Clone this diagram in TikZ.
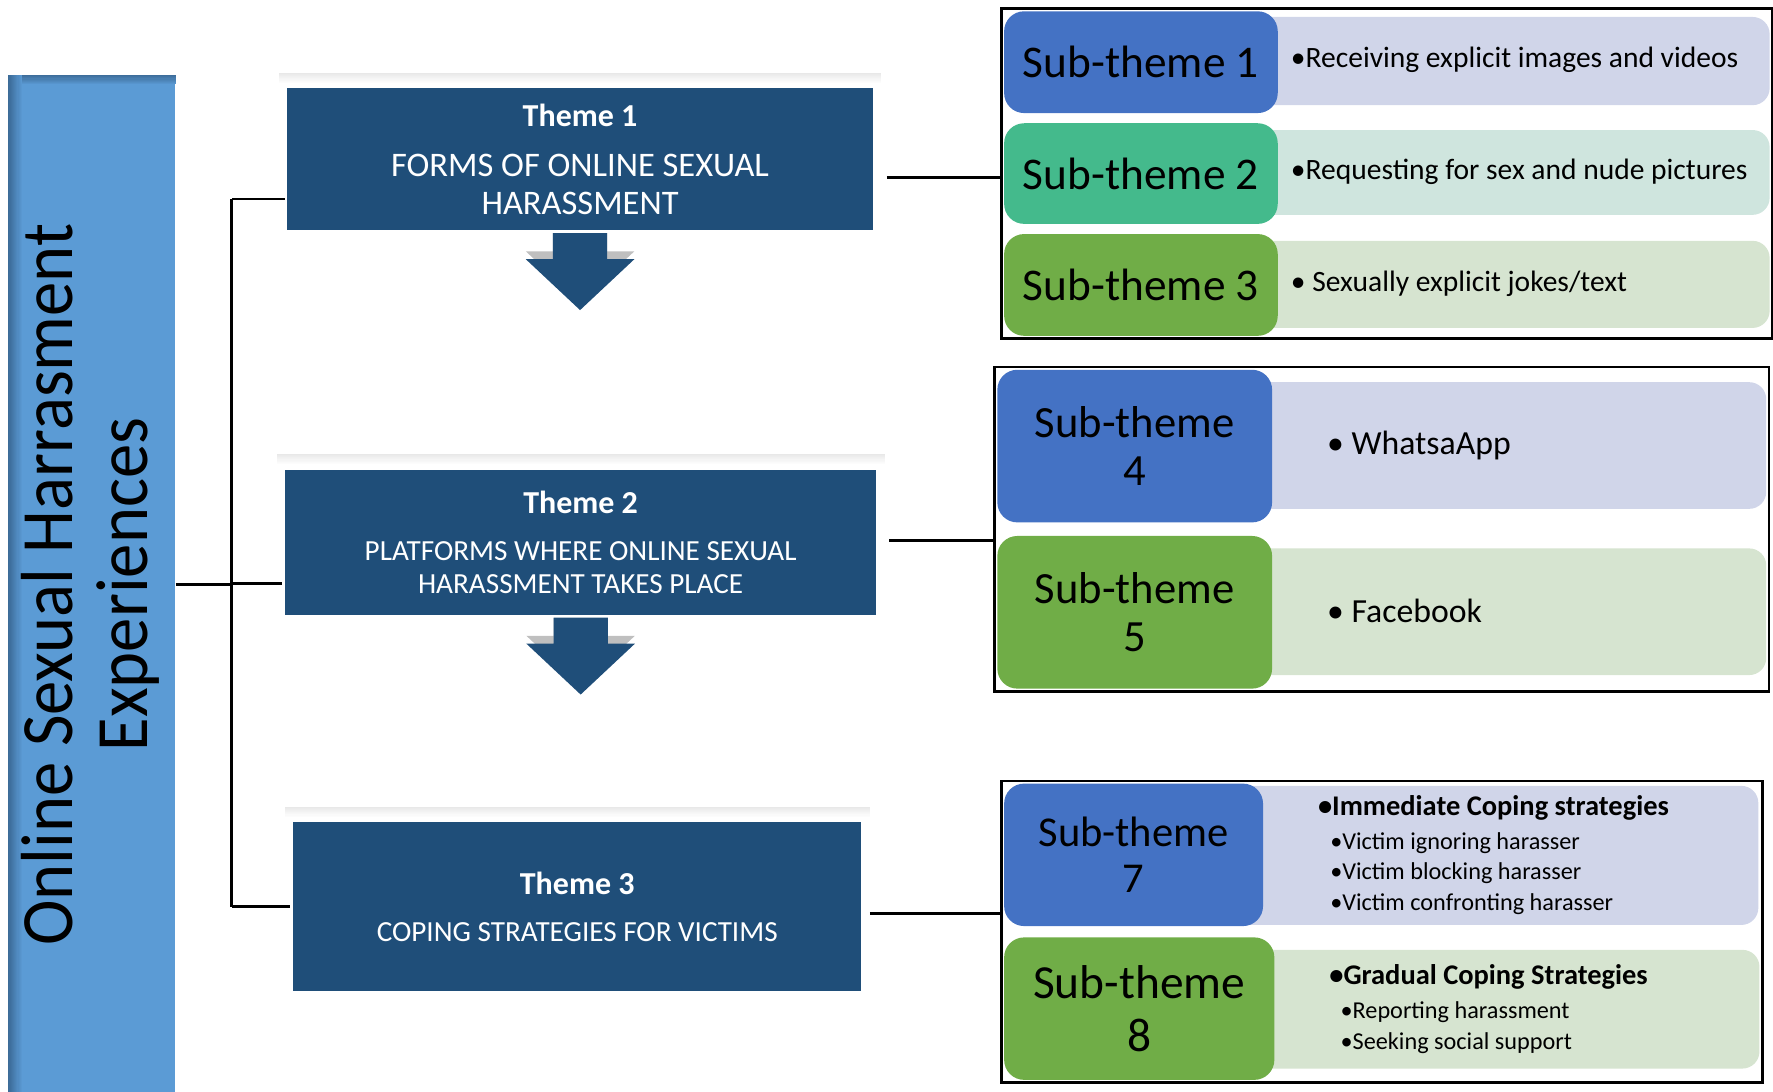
\documentclass[tikz,border=0pt]{standalone}
\usepackage{fontspec}
\setmainfont{Carlito}
\usetikzlibrary{calc,fit,backgrounds}

\definecolor{themeblue}{HTML}{1F4E79}
\definecolor{barblue}{HTML}{5B9BD5}
\definecolor{bardark}{HTML}{3A6894}
\definecolor{stblue}{HTML}{4472C4}
\definecolor{stteal}{HTML}{44BA8C}
\definecolor{stgreen}{HTML}{70AD47}
\definecolor{lavender}{HTML}{D0D5E9}
\definecolor{mint}{HTML}{CFE5DE}
\definecolor{palegreen}{HTML}{D6E4D0}
\newcommand{\dpx}{0.011307cm}

\begin{document}
\begin{tikzpicture}[x=\dpx,y=-\dpx,
  theme/.style={rectangle, fill=themeblue, draw=white, line width=0.8pt, text=white, align=center, inner sep=0pt},
  subbox/.style={rectangle, rounded corners=0.2cm, inner sep=0pt, align=center},
  itembox/.style={rectangle, rounded corners=0.17cm, inner sep=0pt},
  item/.style={anchor=west, align=left, inner sep=0pt},
  grpframe/.style={draw, line width=0.7pt, inner sep=0.6pt},
  conn/.style={line width=0.8pt}]
\useasboundingbox (0,0) rectangle (1568,965);

% left bar
\draw (81.5,518.5) node[fill=barblue, minimum width=147*\dpx, minimum height=903*\dpx, inner sep=0pt] (bar) {};
\foreach \k [evaluate=\k as \pct using 90-\k*11] in {0,...,7}
  \fill[bardark!\pct!barblue] ($(bar.north west)+(0,\k)$) rectangle ($(bar.north east)+(0,\k+1)$);
\foreach \k [evaluate=\k as \pct using 95-\k*8] in {0,...,11}
  \fill[bardark!\pct!barblue] ($(bar.north west)+(\k,0)$) rectangle ($(bar.south west)+(\k+1,0)$);
\draw (80,517) node[rotate=90, xscale=0.93, align=center, font=\fontsize{21}{21.2}\selectfont] (lbl) {Online Sexual Harrasment\\Experiences};

% themes
\draw (513,141) node[theme, minimum width=520*\dpx, minimum height=128*\dpx, font=\fontsize{9.8}{10.6}\selectfont] (t1) {{\bfseries\fontsize{9.1}{11}\selectfont Theme 1}\\[3.6pt]FORMS OF ONLINE SEXUAL\\HARASSMENT};
\draw (513.5,479.5) node[theme, minimum width=525*\dpx, minimum height=131*\dpx, font=\fontsize{8.3}{9.3}\selectfont] (t2) {{\bfseries\fontsize{9.1}{11}\selectfont Theme 2}\\[4.2pt]PLATFORMS WHERE ONLINE SEXUAL\\HARASSMENT TAKES PLACE};
\draw (510.5,802) node[theme, minimum width=505*\dpx, minimum height=152*\dpx, font=\fontsize{8.3}{9.3}\selectfont] (t3) {{\bfseries\fontsize{9.1}{11}\selectfont Theme 3}\\[4.2pt]COPING STRATEGIES FOR VICTIMS};

\begin{pgfonlayer}{background}
\foreach \t in {t1,t2,t3}
  \foreach \k [evaluate=\k as \pct using 58-\k*5.5] in {0,...,9}
    \fill[black!\pct] ($(\t.north west)+(-5,-\k-2.5)$) rectangle ($(\t.north east)+(5,-\k-1.5)$);
\foreach \t in {t1,t2}
  \fill[black!25, shift={(\t.south)}] (-24,-7) -- (-24,16) -- (-48,16) -- (0,61) -- (48,16) -- (24,16) -- (24,-7) -- cycle;
\end{pgfonlayer}
\foreach \t in {t1,t2}
  \fill[themeblue, shift={(\t.south)}] (-24,0) -- (-24,23) -- (-48,23) -- (0,68) -- (48,23) -- (24,23) -- (24,0) -- cycle;

% sub-themes 1-3
\draw (1332.5,54) node[itembox, fill=lavender, minimum width=465*\dpx, minimum height=78*\dpx] (c1) {};
\draw (1332.5,152.5) node[itembox, fill=mint, minimum width=465*\dpx, minimum height=75*\dpx] (c2) {};
\draw (1332.5,251.5) node[itembox, fill=palegreen, minimum width=465*\dpx, minimum height=77*\dpx] (c3) {};
\draw (1009,55) node[subbox, fill=stblue, minimum width=242*\dpx, minimum height=90*\dpx, font=\fontsize{12.9}{15}\selectfont] (s1) {Sub-theme 1};
\draw (1009,153.5) node[subbox, fill=stteal, minimum width=242*\dpx, minimum height=89*\dpx, font=\fontsize{12.9}{15}\selectfont] (s2) {Sub-theme 2};
\draw (1009,252) node[subbox, fill=stgreen, minimum width=242*\dpx, minimum height=90*\dpx, font=\fontsize{12.9}{15}\selectfont] (s3) {Sub-theme 3};
\draw (1141,53) node[item, font=\fontsize{8.4}{10}\selectfont] (i1) {\textbullet Receiving explicit images and videos};
\draw (1141,152) node[item, font=\fontsize{8.4}{10}\selectfont] (i2) {\textbullet Requesting for sex and nude pictures};
\draw (1141,251) node[item, font=\fontsize{8.4}{10}\selectfont] (i3) {\textbullet{} Sexually explicit jokes/text};
\node[grpframe, fit=(s1)(c1)(s3)(c3)] (gA) {};

% sub-themes 4-5
\draw (1328.5,394) node[itembox, fill=lavender, minimum width=467*\dpx, minimum height=112*\dpx] (c4) {};
\draw (1328.5,541) node[itembox, fill=palegreen, minimum width=467*\dpx, minimum height=112*\dpx] (c5) {};
\draw (1003.5,394.5) node[subbox, fill=stblue, minimum width=243*\dpx, minimum height=135*\dpx, font=\fontsize{12.7}{13.8}\selectfont] (s4) {Sub-theme\\4};
\draw (1003.5,541.5) node[subbox, fill=stgreen, minimum width=243*\dpx, minimum height=135*\dpx, font=\fontsize{12.7}{13.8}\selectfont] (s5) {Sub-theme\\5};
\draw (1173,394) node[item, font=\fontsize{9.6}{11}\selectfont] (i4) {\textbullet{} WhatsaApp};
\draw (1173,540) node[item, font=\fontsize{9.6}{11}\selectfont] (i5) {\textbullet{} Facebook};
\node[grpframe, fit=(s4)(c4)(s5)(c5)] (gB) {};

% sub-themes 7-8
\draw (1321,756.5) node[itembox, fill=lavender, minimum width=468*\dpx, minimum height=123*\dpx] (c7) {};
\draw (1326.5,892.5) node[itembox, fill=palegreen, minimum width=459*\dpx, minimum height=105*\dpx] (c8) {};
\draw (1002.5,756) node[subbox, fill=stblue, minimum width=229*\dpx, minimum height=126*\dpx, font=\fontsize{12.1}{13.2}\selectfont] (s7) {Sub-theme\\7};
\draw (1007.5,892) node[subbox, fill=stgreen, minimum width=239*\dpx, minimum height=126*\dpx, font=\fontsize{13.5}{15.1}\selectfont] (s8) {Sub-theme\\8};
\draw (1165,756) node[item, font=\fontsize{6.9}{8.7}\selectfont] (i7) {{\bfseries\fontsize{8.1}{9}\selectfont\textbullet Immediate Coping strategies}\\[0.9pt]\hspace*{3.5pt}\textbullet Victim ignoring harasser\\\hspace*{3.5pt}\textbullet Victim blocking harasser\\\hspace*{3.5pt}\textbullet Victim confronting harasser};
\draw (1175,892.5) node[item, font=\fontsize{6.9}{8.7}\selectfont] (i8) {{\bfseries\fontsize{8.1}{9}\selectfont\textbullet Gradual Coping Strategies}\\[0.9pt]\hspace*{3.2pt}\textbullet Reporting harassment\\\hspace*{3.2pt}\textbullet Seeking social support};
\node[grpframe, fit=(s7)(c7)(s8)(c8)] (gC) {};

% connectors
\coordinate (jn) at (205,517);
\coordinate (t1in) at ($(t1.west)+(0,35)$);
\coordinate (t2in) at ($(t2.west)+(0,36.5)$);
\draw[conn] (bar.east |- jn) -- (jn);
\draw[conn] (jn |- t1in) -- (jn |- t3.west);
\draw[conn] (jn |- t1in) -- (t1in);
\draw[conn] (jn |- t2in) -- (t2in);
\draw[conn] (jn |- t3.west) -- (t3.west);
\coordinate (t1out) at ($(t1.east)+(10,16)$);
\coordinate (t2out) at ($(t2.east)+(9,-1.5)$);
\coordinate (t3out) at ($(t3.east)+(5,6)$);
\draw[conn] (t1out) -- (t1out -| gA.west);
\draw[conn] (t2out) -- (t2out -| gB.west);
\draw[conn] (t3out) -- (t3out -| gC.west);
\end{tikzpicture}
\end{document}
